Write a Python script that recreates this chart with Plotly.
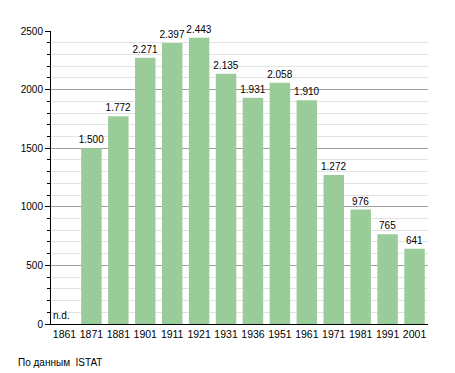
import plotly.graph_objects as go

years = ["1861", "1871", "1881", "1901", "1911", "1921", "1931", "1936",
         "1951", "1961", "1971", "1981", "1991", "2001"]
population = [0, 1500, 1772, 2271, 2397, 2443, 2135, 1931, 2058, 1910, 1272, 976, 765, 641]
labels = ["", "1.500", "1.772", "2.271", "2.397", "2.443", "2.135", "1.931",
          "2.058", "1.910", "1.272", "976", "765", "641"]
source_note = "По данным  ISTAT"

font = "Liberation Sans, Arial, sans-serif"

fig = go.Figure(go.Bar(
    x=years, y=population, text=labels, textposition="outside",
    textfont=dict(family=font, size=10, color="#000"),
    constraintext="none",
    marker=dict(color="#99cc99", line=dict(width=0)),
    width=0.76, cliponaxis=False,
))

fig.add_annotation(x=0, y=0, xref="x", yref="y", text="n.d.", showarrow=False,
                   xanchor="left", yanchor="bottom", xshift=-13, yshift=1,
                   font=dict(family=font, size=10, color="#000"))
fig.add_annotation(x=0, y=0, xref="paper", yref="paper", text=source_note,
                   showarrow=False, xanchor="left", yanchor="top",
                   xshift=-35, yshift=-31,
                   font=dict(family=font, size=10, color="#000"))

fig.update_layout(
    width=447, height=365,
    margin=dict(l=43, r=27, t=23, b=49),
    paper_bgcolor="white", plot_bgcolor="white",
    showlegend=False,
    font=dict(family=font, size=10, color="#000"),
    uniformtext=dict(minsize=10, mode="show"),
    xaxis=dict(type="category", range=[-0.5, 13.5], showline=True,
               linecolor="#000", linewidth=1, automargin=False,
               ticks="", tickfont=dict(size=10.5), showgrid=False),
    yaxis=dict(range=[0, 2500], dtick=500, showline=True, linecolor="#000",
               linewidth=1, ticks="outside", ticklen=5, tickcolor="#000",
               automargin=False,
               showgrid=True, gridcolor="#a0a0a0", gridwidth=1, zeroline=False,
               tickfont=dict(size=10),
               minor=dict(dtick=100, showgrid=True, gridcolor="#e2e2e2",
                          ticks="outside", ticklen=3, tickcolor="#000")),
)

fig.write_html("out.html")
